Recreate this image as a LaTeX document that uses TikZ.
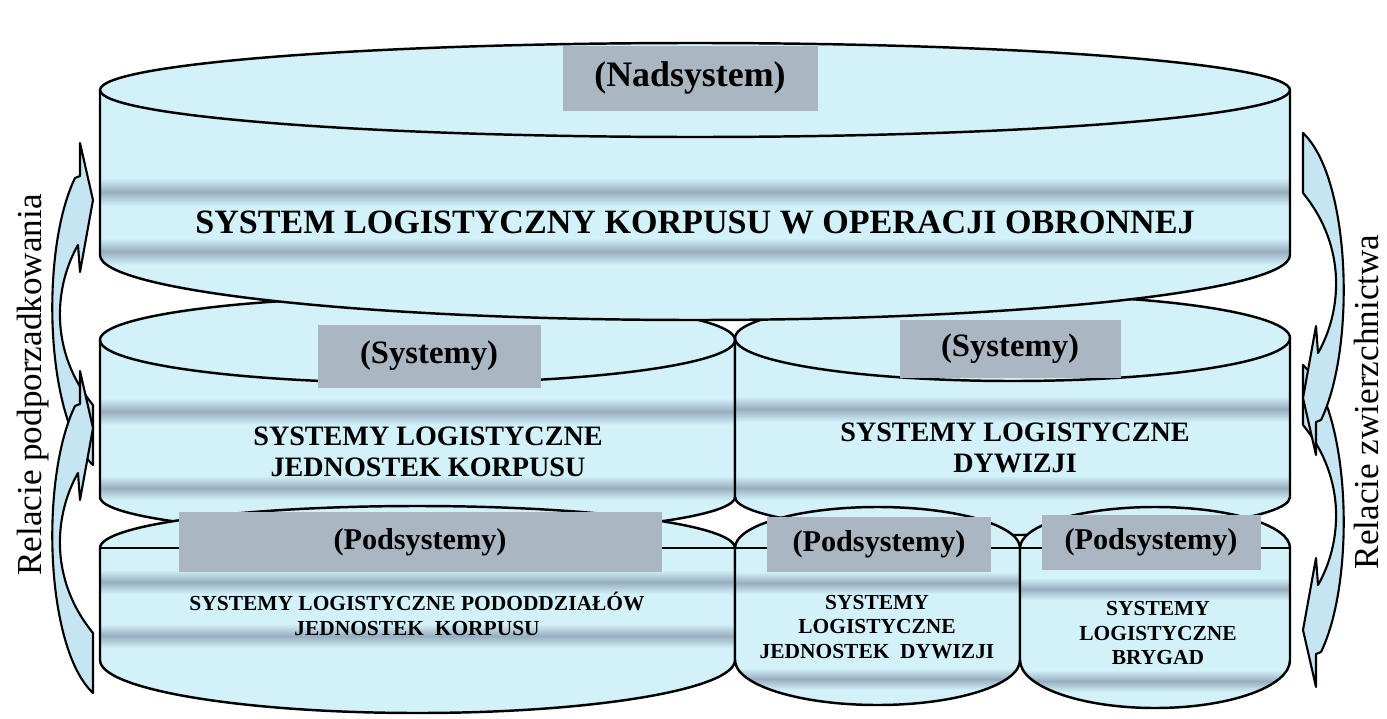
\documentclass[tikz,border=0pt]{standalone}
\usepackage{xcolor}
\usepackage{fontspec}
\setmainfont{Liberation Serif}
\usepackage{tikz}
\usetikzlibrary{positioning}

\definecolor{cylfill}{RGB}{210,241,249}
\definecolor{bandblue}{RGB}{152,174,192}
\definecolor{labelgray}{RGB}{170,182,194}
\definecolor{arrowfill}{RGB}{198,229,242}

% #1 left x, #2 right x, #3 rim y, #4 rim ry, #5 foot y, #6 foot ry, #7 bands
\newcommand{\drawcylinder}[7]{%
	\pgfmathsetmacro{\cylrx}{(#2-#1)/2}
	\fill[cylfill] (#1,#3) -- (#1,#5) arc[start angle=180,end angle=0,x radius=\cylrx,y radius=#6] -- (#2,#3) arc[start angle=0,end angle=-180,x radius=\cylrx,y radius=#4] -- cycle;
	\begin{scope}
		\clip (#1,#3) -- (#1,#5) arc[start angle=180,end angle=0,x radius=\cylrx,y radius=#6] -- (#2,#3) -- cycle;
		\foreach \ba/\bb in {#7}
			\shade[top color=cylfill,bottom color=cylfill,middle color=bandblue] (#1,\ba) rectangle (#2,\bb);
	\end{scope}
	\draw[cylline] (#1,#3) -- (#1,#5) arc[start angle=180,end angle=0,x radius=\cylrx,y radius=#6] -- (#2,#3) arc[start angle=0,end angle=-180,x radius=\cylrx,y radius=#4];
}

\newcommand{\relationarrow}{%
	\filldraw[arrowshape] (80,143) -- (93,200) -- (80,272) -- (78,245) .. controls (55,285) and (48,350) .. (93,405) -- (93,465) .. controls (45,420) and (40,250) .. (75,178) -- (80,176) -- cycle;
}

\begin{document}
\begin{tikzpicture}[
				x = 0.1mm, y = -0.1mm,
				cylline/.style = {black, line width=0.7pt, line join=round},
				arrowshape/.style = {fill=arrowfill, draw=black, line width=0.6pt, line join=round},
				labelbox/.style = {fill=labelgray, inner sep=0pt, font=\bfseries\fontsize{9.3}{11}\selectfont},
				headtext/.style = {font=\bfseries\fontsize{9.7}{11}\selectfont},
				systext/.style = {align=center, font=\bfseries\fontsize{8}{8.8}\selectfont},
				subtext/.style = {align=center, font=\bfseries\fontsize{6.1}{6.9}\selectfont},
				sidetext/.style = {rotate=90, font=\fontsize{10}{12}\selectfont}
			]

			\useasboundingbox (0,0) rectangle (1387,718);

			% middle level
			\drawcylinder{100}{735}{340}{43}{497}{38}{398/425, 476/500}
			\draw[cylline] (100,340) arc[start angle=180,end angle=0,x radius=317.5,y radius=43];
			\drawcylinder{735}{1290}{338}{43}{497}{38}{396/422, 476/500}
			\draw[cylline] (735,338) arc[start angle=180,end angle=0,x radius=277.5,y radius=43];

			\node[labelbox, minimum width=22.3mm, minimum height=6.3mm] (sysleft) at (429,356) {(Systemy)};
			\node[labelbox, minimum width=22.1mm, minimum height=5.8mm] (sysright) at (1010,349) {(Systemy)};
			\node[systext] (corpsunits) at (428,452) {SYSTEMY LOGISTYCZNE\\JEDNOSTEK KORPUSU};
			\node[systext] (divisions) at (1015,448) {SYSTEMY LOGISTYCZNE\\DYWIZJI};

			% top level
			\drawcylinder{100}{1290}{90}{47}{255}{65}{178/206, 238/265}
			\draw[cylline] (100,90) arc[start angle=180,end angle=0,x radius=595,y radius=47];
			\node[labelbox, minimum width=25.5mm, minimum height=6.5mm, font=\bfseries\fontsize{10.2}{12}\selectfont] (nadsys) at (690,78) {(Nadsystem)};
			\node[headtext] (corps) at (695,222) {SYSTEM LOGISTYCZNY KORPUSU W OPERACJI OBRONNEJ};

			% bottom level
			\drawcylinder{100}{735}{548}{42}{660}{53}{570/594, 624/648}
			\draw[cylline] (100,548) -- (735,548);
			\drawcylinder{735}{1020}{548}{41}{660}{45}{572/594, 668/690}
			\draw[cylline] (735,548) -- (1020,548);
			\drawcylinder{1020}{1290}{548}{41}{660}{48}{578/600, 670/692}
			\draw[cylline] (1020,548) -- (1290,548);

			\node[labelbox, minimum width=48.3mm, minimum height=6mm, font=\bfseries\fontsize{8.6}{10}\selectfont] (subleft) at (420,542) {(Podsystemy)};
			\node[labelbox, minimum width=22.4mm, minimum height=5.5mm, font=\bfseries\fontsize{8.6}{10}\selectfont] (submid) at (879,544) {(Podsystemy)};
			\node[labelbox, minimum width=21.9mm, minimum height=5.5mm, font=\bfseries\fontsize{8.6}{10}\selectfont] (subright) at (1151,542) {(Podsystemy)};
			\node[subtext] (subunits) at (417,614) {SYSTEMY LOGISTYCZNE PODODDZIAŁÓW\\JEDNOSTEK\ \ KORPUSU};
			\node[subtext] (divunits) at (877,627) {SYSTEMY\\LOGISTYCZNE\\JEDNOSTEK\ \ DYWIZJI};
			\node[subtext] (brigades) at (1158,633) {SYSTEMY\\LOGISTYCZNE\\BRYGAD};

			% relation arrows
			\relationarrow
			\begin{scope}[shift={(0,228)}]
				\relationarrow
			\end{scope}
			\begin{scope}[shift={(1396,830)}, rotate=180]
				\relationarrow
			\end{scope}
			\begin{scope}[shift={(1396,598)}, rotate=180]
				\relationarrow
			\end{scope}

			\node[sidetext] (subordination) at (33,385) {Relacie podporzadkowania};
			\node[sidetext] (superiority) at (1366,402) {Relacie zwierzchnictwa};

\end{tikzpicture}
\end{document}
